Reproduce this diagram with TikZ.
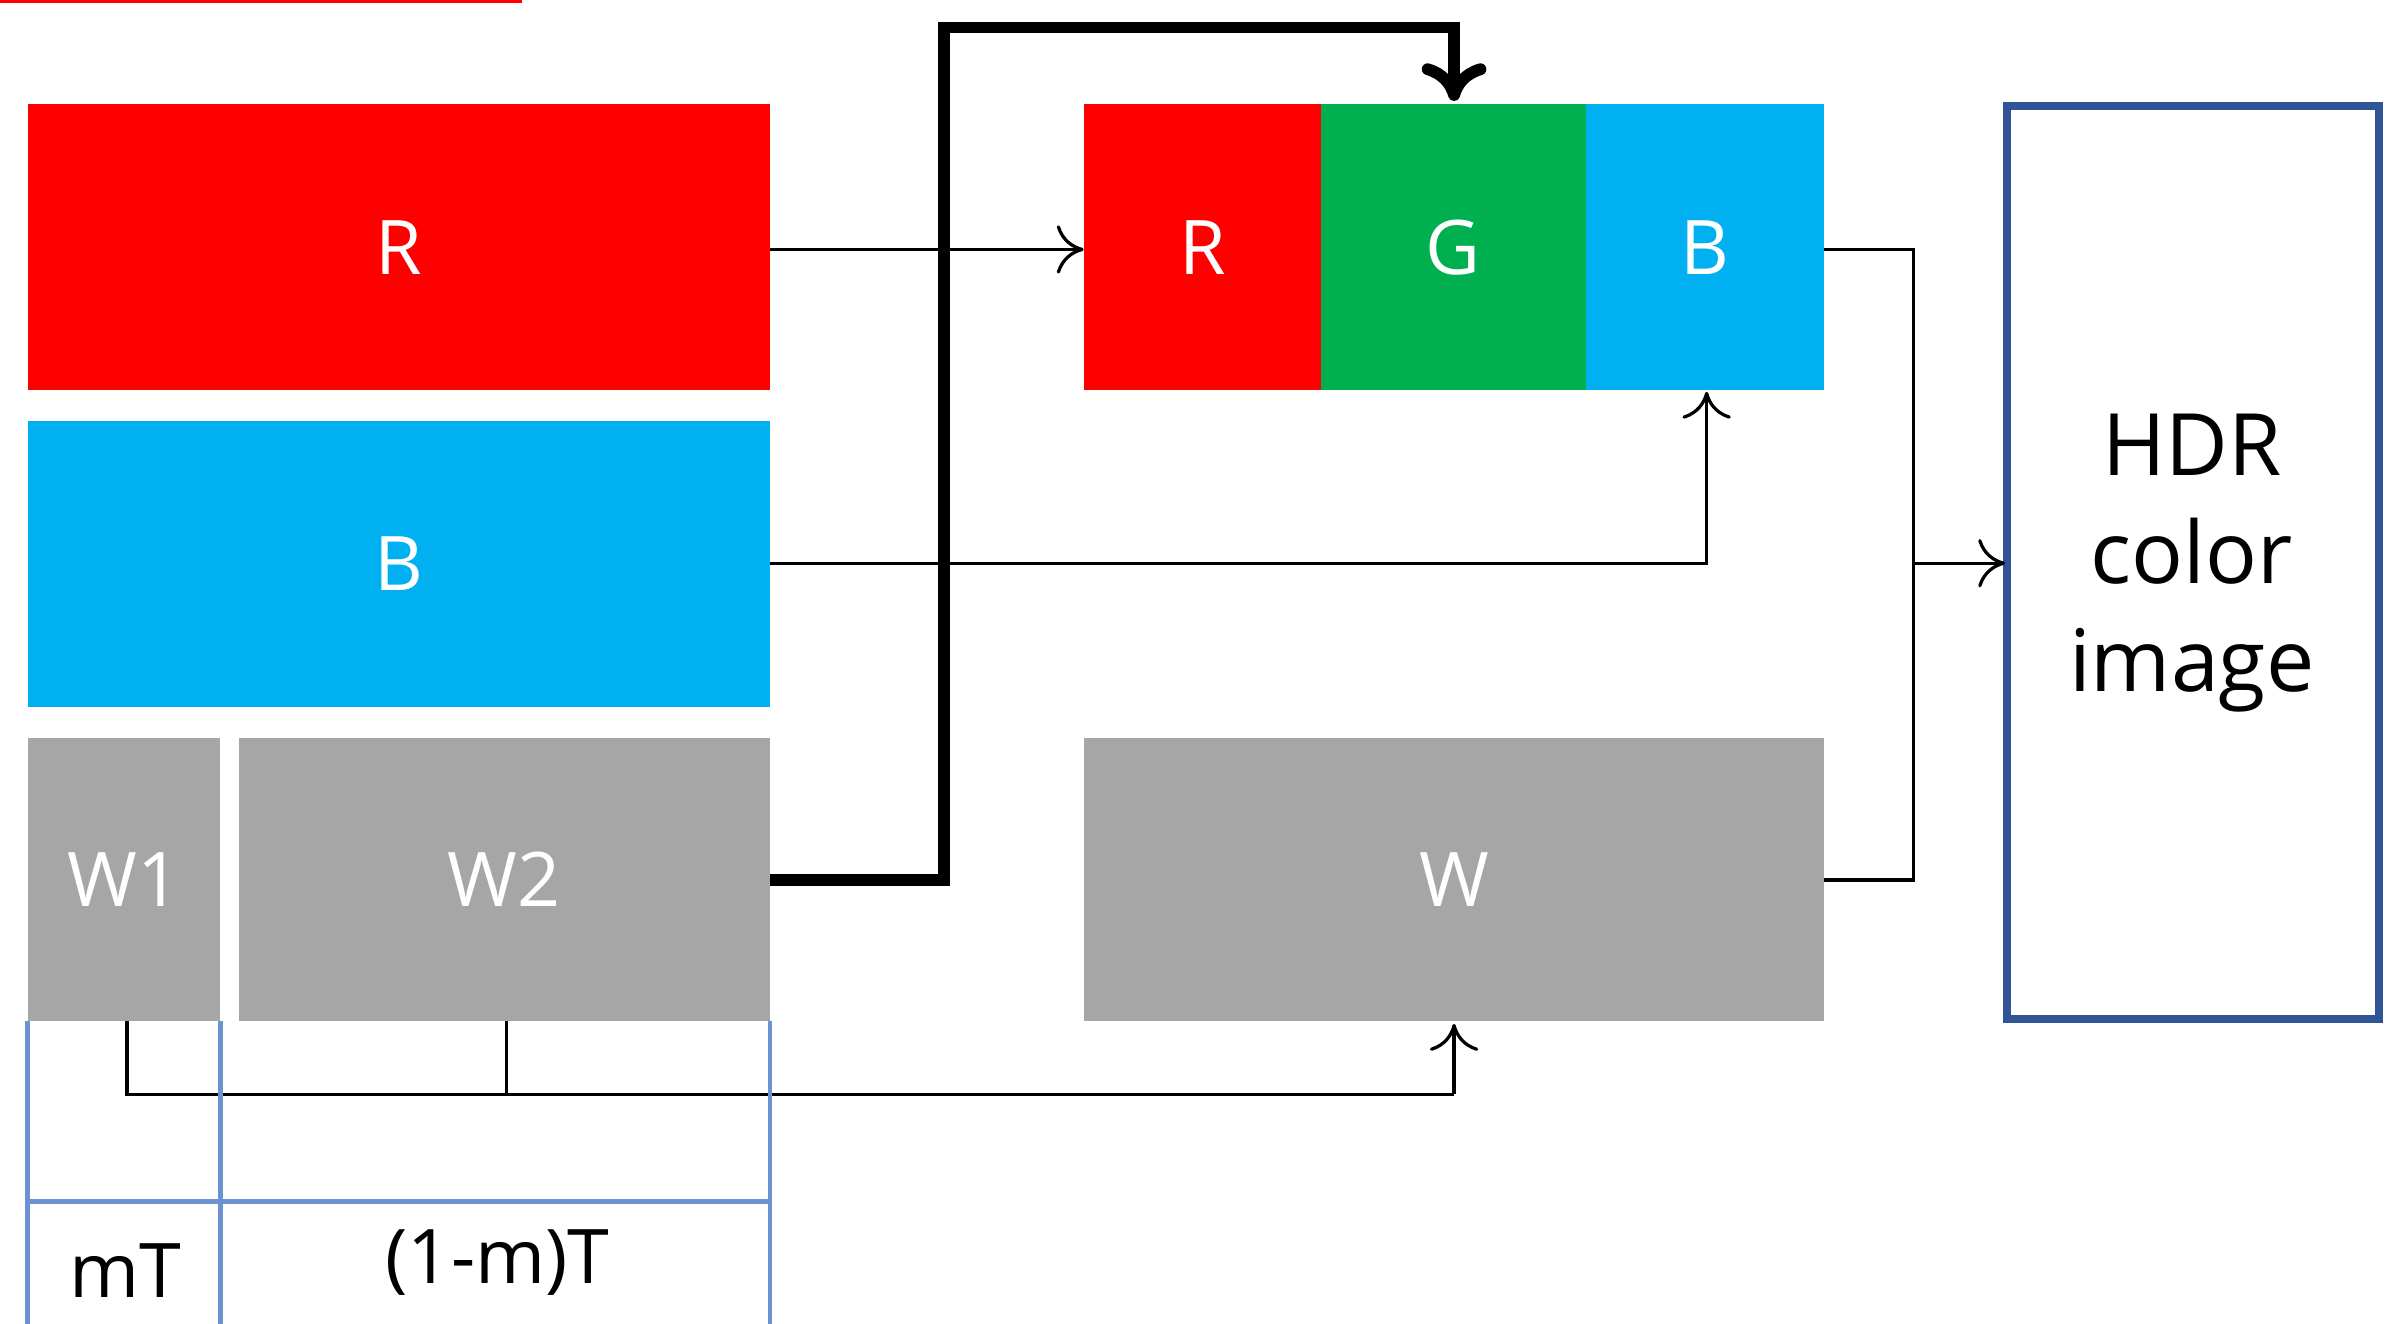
\documentclass[tikz,border=0pt]{standalone}
\usepackage{fontspec}
\setmainfont{Open Sans}
\usetikzlibrary{arrows.meta}
\definecolor{rr}{HTML}{FF0000}
\definecolor{gg}{HTML}{00B050}
\definecolor{bb}{HTML}{00B0F0}
\definecolor{gy}{HTML}{A6A6A6}
\definecolor{bl}{HTML}{2F5597}
\definecolor{lb}{HTML}{6C93D0}
\begin{document}
\begin{tikzpicture}[x=0.01cm,y=-0.01cm,
 blk/.style={draw=none,inner sep=0,text=white,font=\fontsize{14}{16}\selectfont},
 ln/.style={line width=0.6pt},
 arr/.style={ln,-{To[length=5pt,width=9pt]}}]
\clip (0,0) rectangle (1568,865);
\node[blk,fill=rr,minimum width=485\pgflinewidth] at (0,0) {};
\path[fill=rr] (18,68) rectangle (503,255); \node[blk] (R) at (260.5,161.5) {R};
\coordinate (Rr) at (503,163);
\path[fill=bb] (18,275) rectangle (503,462); \node[blk] (B) at (260.5,368.5) {B};
\path[fill=gy] (18,482) rectangle (144,667); \node[blk] (W1) at (81,574.5) {W1};
\path[fill=gy] (156,482) rectangle (503,667); \node[blk] (W2) at (329.5,574.5) {W2};
\path[fill=rr] (708,68) rectangle (863,255); \node[blk] (R2) at (785.5,161.5) {R};
\path[fill=gg] (863,68) rectangle (1036,255); \node[blk] (G2) at (949.5,161.5) {G};
\path[fill=bb] (1036,68) rectangle (1192,255); \node[blk] (B2) at (1114,161.5) {B};
\path[fill=gy] (708,482) rectangle (1192,667); \node[blk] (W) at (950,574.5) {W};
\draw[bl,line width=1.5pt,fill=white] (1311,69) rectangle (1554,666);
\node[align=center,font=\fontsize{16}{20}\selectfont] (H) at (1432,368) {HDR\\color\\image};
% arrows
\draw[arr] (503,163) -- (708,163);
\draw[arr] (503,368) -- (1115,368) -- (1115,256);
\draw[line width=2.2pt,-{To[length=7pt,width=12pt]}] (503,575) -- (617,575) -- (617,18) -- (950,18) -- (950,66);
\draw[ln] (1192,163) -- (1250,163) -- (1250,575) -- (1192,575);
\draw[arr] (1250,368) -- (1310,368);
\draw[ln] (83,667) -- (83,715) -- (950,715);
\draw[ln] (331,667) -- (331,715);
\draw[arr] (950,715) -- (950,669);
% timeline
\draw[lb,line width=0.8pt] (18,667) -- (18,865) (144,667) -- (144,865) (503,667) -- (503,865) (18,785) -- (503,785);
\node[font=\fontsize{14}{16}\selectfont] at (82,830) {mT};
\node[font=\fontsize{14}{16}\selectfont] at (325,825) {(1-m)T};
\end{tikzpicture}
\end{document}
